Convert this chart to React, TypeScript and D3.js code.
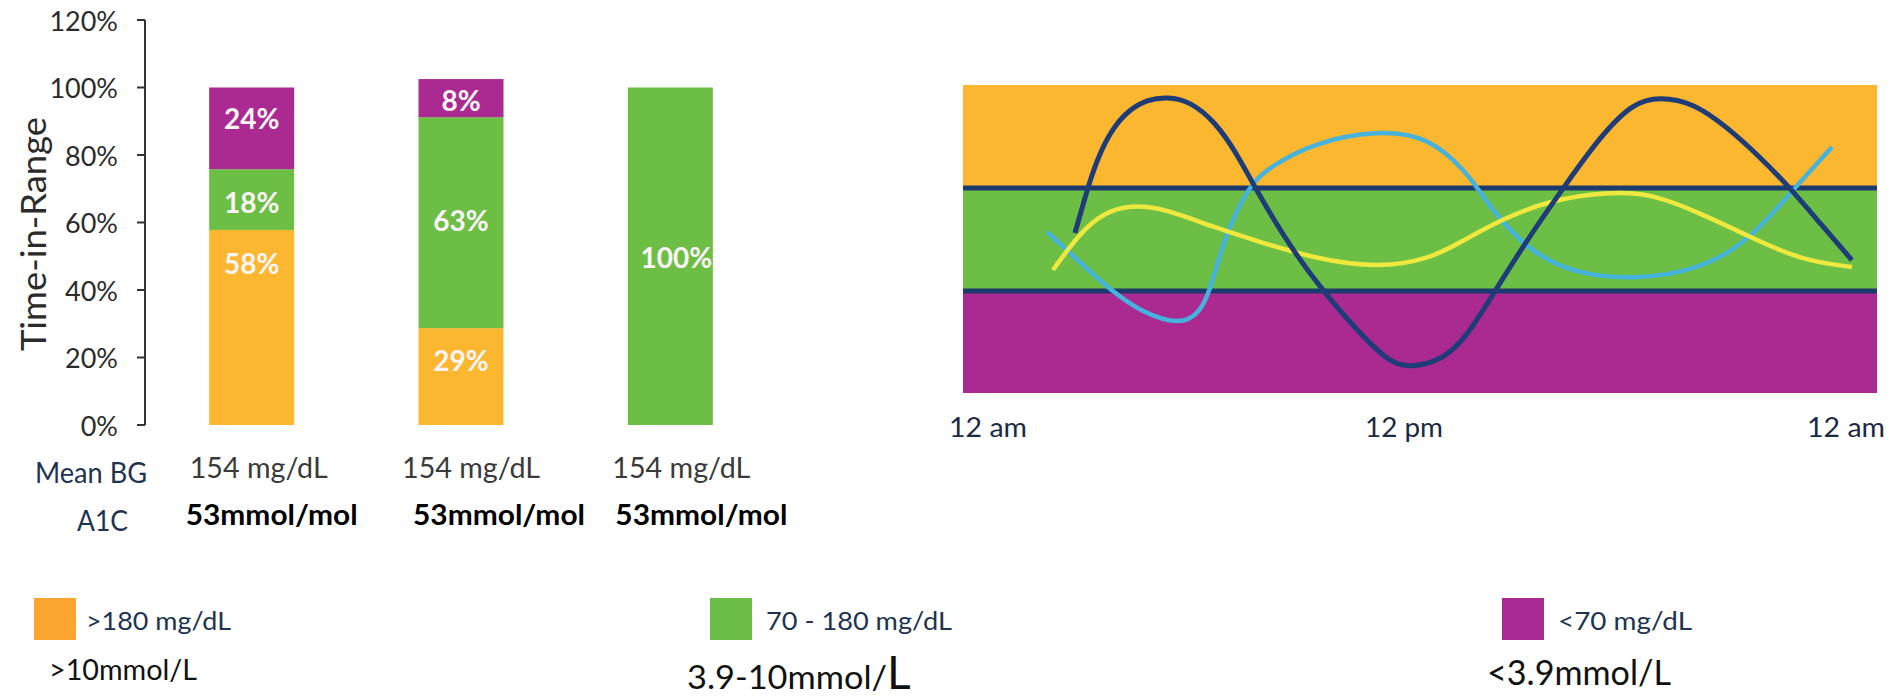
import React from "react";
import * as d3 from "d3";

// ---------- DATA ----------
const categories = ["Profile A", "Profile B", "Profile C"];
// segment heights as drawn (percent of time)
const above180 = [57.8, 28.7, 0];
const inRange = [18, 62.5, 100];
const below70 = [24.2, 11.3, 0];
const above180Labels = ["58%", "29%", ""];
const inRangeLabels = ["18%", "63%", "100%"];
const below70Labels = ["24%", "8%", ""];
const meanBG = ["154 mg/dL", "154 mg/dL", "154 mg/dL"];
const a1c = ["53mmol/mol", "53mmol/mol", "53mmol/mol"];
const yTicks = [0, 20, 40, 60, 80, 100, 120];

// CGM day traces: [hour of day, glucose mg/dL]
const navyTrace: [number, number][] = [
  [2.94, 132], [3.15, 162], [3.37, 188], [3.63, 206], [3.97, 222], [4.36, 233],
  [4.83, 240], [5.36, 242], [5.96, 239], [6.62, 225], [7.18, 204], [7.67, 180],
  [8.59, 117], [9.45, 70], [10.5, 56.5], [11.21, 49], [11.74, 47.4], [12.6, 49.7],
  [13.23, 56.5], [13.97, 70], [14.81, 124.5], [15.76, 180], [16.73, 215],
  [17.59, 238], [18.3, 242], [19.17, 238], [20.06, 221.5], [20.93, 201],
  [21.72, 180], [22.5, 142.6], [23.34, 103],
];
const cyanTrace: [number, number][] = [
  [2.21, 133], [2.81, 110.6], [3.86, 71], [4.73, 63.5], [5.7, 60], [6.22, 63.5],
  [6.49, 71], [6.83, 121], [7.19, 156.5], [7.59, 183.4], [8.06, 194.3],
  [9.19, 210.6], [10.87, 219.4], [12.26, 214.7], [13.23, 190.2], [13.5, 180],
  [14.1, 145.8], [14.97, 110.6], [16.02, 89.2], [17.59, 81.7], [19.35, 92.4],
  [20.67, 124.5], [21.72, 174.7], [22.82, 207.9],
];
const yellowTrace: [number, number][] = [
  [2.36, 92.4], [3.07, 132], [3.68, 153.3], [4.39, 161.9], [5.25, 158.6],
  [6.56, 138.4], [7.88, 121.3], [9.19, 105.2], [10.87, 94.5],
  [12.26, 104], [13.1, 123], [14.1, 145.8], [15.41, 167.2], [16.91, 175.7],
  [18.04, 174.7], [19.35, 153.3], [20.67, 127.7], [21.98, 103.1], [23.34, 95.6],
];
const glucoseBands = [
  { lo: 180, hi: 250, key: "high" },
  { lo: 70, hi: 180, key: "range" },
  { lo: 40, hi: 70, key: "low" },
];
const thresholds = [70, 180];
const timeTicks = [0, 12, 24];
const timeLabels = ["12 am", "12 pm", "12 am"];

const legendMg = [">180 mg/dL", "70 - 180 mg/dL", "<70 mg/dL"];
const legendMmol = [">10mmol/L", "3.9-10mmol/", "<3.9mmol/L"];
const legendKeys = ["high", "range", "low"];

// ---------- STYLE / LAYOUT ----------
const COLORS: Record<string, string> = {
  high: "#FCB731",
  range: "#6DBE45",
  low: "#AA2A91",
};
const LEGEND_COLORS: Record<string, string> = {
  high: "#F9A530",
  range: "#6CBD45",
  low: "#A92A92",
};
const NAVY = "#1C3A6E";
const TEXT_NAVY = "#1E3350";
const FONT = "Lato, 'Open Sans', sans-serif";

// label anchor (in percent units) per segment
const LABEL_AT = {
  high: [48, 19.3, null as number | null],
  range: [66, 60.7, 49.8],
  low: [91, 96.3, null as number | null],
};

export default function App() {
  const W = 1902, H = 698;

  // ----- left bar chart -----
  const y = d3.scaleLinear().domain([0, 120]).range([425, 20]);
  const x = d3
    .scaleBand<string>()
    .domain(categories)
    .range([147, 775])
    .paddingInner(0.594)
    .paddingOuter(0.297);

  const rows = categories.map((c, i) => ({
    cat: c,
    high: above180[i],
    range: inRange[i],
    low: below70[i],
  }));
  const stack = d3.stack<any>().keys(["high", "range", "low"]);
  const series = stack(rows);
  const labels: Record<string, string[]> = {
    high: above180Labels,
    range: inRangeLabels,
    low: below70Labels,
  };

  const axisX = 145;

  // ----- right CGM chart -----
  const tx = d3.scaleLinear().domain([0, 24]).range([963, 1877]);
  const gy = d3.scaleLinear().domain([40, 70, 180, 250]).range([393, 291, 188, 85]);
  const line = d3
    .line<[number, number]>()
    .x((d) => tx(d[0]))
    .y((d) => gy(d[1]))
    .curve(d3.curveBasis);

  const tickAnchors = ["start", "middle", "end"];
  const tickDx = [-14, -16, 8];

  const meanStartDx = [-62, -59, -58];
  const a1cStartDx = [-66, -48, -55];

  const legendSquareX = [34, 710, 1502];
  const legendMgX = [86, 766, 1558];
  const legendMgLen = [145, 186, 134];
  const legendMmolX = [49, 687, 1487];
  const legendMmolY = [680, 689, 685];
  const legendMmolSize = [29, 33, 34];
  const legendMmolLen = [148, 200, 184];

  return (
    <svg
      width={W}
      height={H}
      style={{ position: "absolute", left: 0, top: 0, background: "#fff" }}
      fontFamily={FONT}
    >
      {/* y axis */}
      <g>
        <line x1={axisX} x2={axisX} y1={y(120)} y2={y(0)} stroke="#333" strokeWidth={2} />
        {yTicks.map((t) => (
          <g key={t}>
            <line x1={axisX - 8} x2={axisX} y1={y(t)} y2={y(t)} stroke="#333" strokeWidth={2} />
            <text
              x={axisX - 27}
              y={y(t)}
              textAnchor="end"
              dominantBaseline="central"
              fontSize={27}
              fill="#2b2b2b"
            >
              {t + "%"}
            </text>
          </g>
        ))}
        <text
          transform={`translate(32, ${234}) rotate(-90)`}
          textAnchor="middle"
          dominantBaseline="central"
          fontSize={35}
          fill="#2b2b2b"
          textLength={234}
          lengthAdjust="spacingAndGlyphs"
        >
          Time-in-Range
        </text>
      </g>

      {/* bars */}
      {series.map((s) => (
        <g key={s.key} fill={COLORS[s.key]}>
          {s.map((d, i) =>
            d[1] - d[0] > 0 ? (
              <rect
                key={i}
                x={x(categories[i])}
                width={x.bandwidth()}
                y={y(d[1])}
                height={y(d[0]) - y(d[1])}
              />
            ) : null
          )}
        </g>
      ))}
      {series.map((s) => (
        <g key={s.key + "-l"}>
          {s.map((d, i) => {
            const lab = labels[s.key][i];
            if (!lab) return null;
            const at = (LABEL_AT as any)[s.key][i] ?? (d[0] + d[1]) / 2;
            return (
              <text
                key={i}
                x={(x(categories[i]) as number) + x.bandwidth() / 2 + (lab === "100%" ? 6 : 0)}
                y={y(at)}
                textAnchor="middle"
                dominantBaseline="central"
                fontSize={28}
                fontWeight={700}
                fill="#FBF5F8"
              >
                {lab}
              </text>
            );
          })}
        </g>
      ))}

      {/* Mean BG / A1C rows */}
      <text x={35} y={483} fontSize={28} fill={TEXT_NAVY} textLength={112} lengthAdjust="spacingAndGlyphs">
        Mean BG
      </text>
      <text x={77} y={531} fontSize={28} fill={TEXT_NAVY} textLength={51} lengthAdjust="spacingAndGlyphs">
        A1C
      </text>
      {categories.map((c, i) => {
        const cx = (x(c) as number) + x.bandwidth() / 2;
        return (
          <g key={c}>
            <text
              x={cx + meanStartDx[i]}
              y={478}
              fontSize={28}
              fill="#3a3a3a"
              textLength={138}
              lengthAdjust="spacingAndGlyphs"
            >
              {meanBG[i]}
            </text>
            <text
              x={cx + a1cStartDx[i]}
              y={525}
              fontSize={29}
              fontWeight={700}
              fill="#000"
              textLength={172}
              lengthAdjust="spacingAndGlyphs"
            >
              {a1c[i]}
            </text>
          </g>
        );
      })}

      {/* CGM chart */}
      <g>
        {glucoseBands.map((b) => (
          <rect
            key={b.key}
            x={tx(0)}
            width={tx(24) - tx(0)}
            y={gy(b.hi)}
            height={gy(b.lo) - gy(b.hi)}
            fill={COLORS[b.key]}
          />
        ))}
        {thresholds.map((t) => (
          <line key={t} x1={tx(0)} x2={tx(24)} y1={gy(t)} y2={gy(t)} stroke={NAVY} strokeWidth={5} />
        ))}
        <path d={line(cyanTrace) || ""} fill="none" stroke="#45B3DC" strokeWidth={4.5} />
        <path d={line(yellowTrace) || ""} fill="none" stroke="#EFE83E" strokeWidth={4.5} />
        <path d={line(navyTrace) || ""} fill="none" stroke="#1D3C78" strokeWidth={5} />
        {timeTicks.map((t, i) => (
          <text
            key={i}
            x={tx(t) + tickDx[i]}
            y={437}
            textAnchor={tickAnchors[i] as any}
            fontSize={27}
            fill="#1C2A44"
            textLength={78}
            lengthAdjust="spacingAndGlyphs"
          >
            {timeLabels[i]}
          </text>
        ))}
      </g>

      {/* legend */}
      {legendKeys.map((k, i) => (
        <g key={k}>
          <rect x={legendSquareX[i]} y={598} width={42} height={42} fill={LEGEND_COLORS[k]} />
          <text
            x={legendMgX[i]}
            y={630}
            fontSize={25}
            fill={TEXT_NAVY}
            textLength={legendMgLen[i]}
            lengthAdjust="spacingAndGlyphs"
          >
            {legendMg[i]}
          </text>
          <text
            x={legendMmolX[i]}
            y={legendMmolY[i]}
            fontSize={legendMmolSize[i]}
            fill="#111"
          >
            <tspan textLength={legendMmolLen[i]} lengthAdjust="spacingAndGlyphs">
              {legendMmol[i]}
            </tspan>
            {k === "range" ? <tspan fontSize={46}>L</tspan> : null}
          </text>
        </g>
      ))}
    </svg>
  );
}
